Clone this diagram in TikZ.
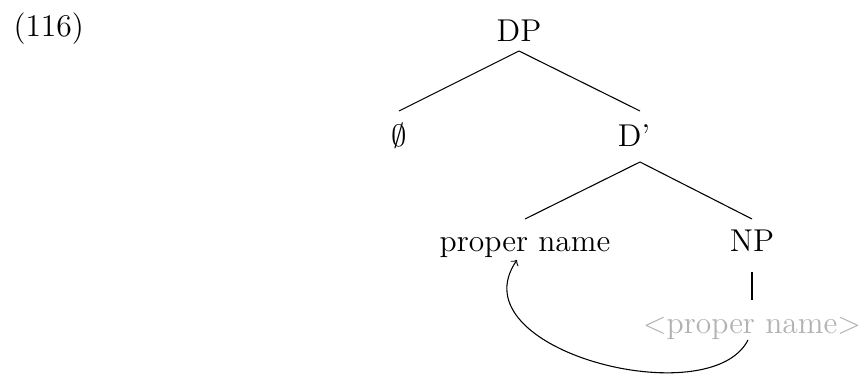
\documentclass[tikz,border=0pt]{standalone}
\usetikzlibrary{calc}
\begin{document}
\begin{tikzpicture}[x=0.39pt,y=-0.39pt,
  lbl/.style={anchor=base,inner sep=0pt,font=\fontsize{12.3}{14.8}\selectfont},
  edge/.style={line width=0.42pt}]
\useasboundingbox (0,0) rectangle (864,374);
\node[lbl,anchor=base west] (ex) at (13,37) {(116)};
\node[lbl] (dp) at (519,42) {DP};
\node[lbl] (null) at (399,147) {$\emptyset$};
\node[lbl] (dbar) at (634,147) {D'};
\node[lbl] (pn) at (525,252) {proper name};
\node[lbl] (np) at (752,252) {NP};
\node[lbl,text=black!30] (tr) at (752,334) {$<$proper name$>$};
\draw[edge] ($(dp.base)+(0,9)$) -- ($(null.base)+(0,-36)$);
\draw[edge] ($(dp.base)+(0,9)$) -- ($(dbar.base)+(6,-36)$);
\draw[edge] ($(dbar.base)+(6,15)$) -- ($(pn.base)+(0,-33)$);
\draw[edge] ($(dbar.base)+(6,15)$) -- ($(np.base)+(0,-33)$);
\draw[edge] ($(np.base)+(0,20)$) -- ($(tr.base)+(0,-34)$);
\draw[edge,->] ($(tr.base)+(-4,6)$) .. controls (710,415) and (455,350) .. ($(pn.base)+(-8,8)$);
\end{tikzpicture}
\end{document}
